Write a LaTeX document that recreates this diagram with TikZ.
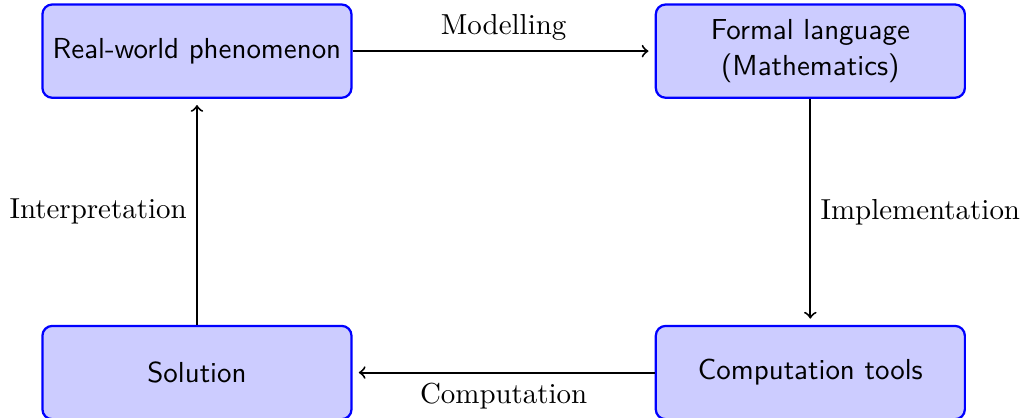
\documentclass[tikz,border=0pt]{standalone}
\usepackage{fontspec}
\begin{document}
\begin{tikzpicture}[x=1pt,y=1pt,
  lbl/.style={font=\fontsize{10.3pt}{12.6pt}\selectfont},
  box/.style={draw=blue, fill=blue!20, line width=0.8pt, rounded corners=3.5pt,
    minimum width=110pt, minimum height=33.2pt, align=center,
    font=\fontsize{10.3pt}{12.6pt}\selectfont\sffamily, inner sep=3.33pt},
  conn/.style={->, line width=0.7pt, shorten >=2.2pt}
]
\useasboundingbox (0,0) rectangle (364.8,-148.75);
\node[box] (rw) at (70.1,-18.2) {Real-world phenomenon};
\node[box] (fl) at (288.4,-18.2) {Formal language\\(Mathematics)};
\node[box] (ct) at (288.4,-132.6) {Computation tools};
\node[box] (so) at (70.1,-132.6) {Solution};
\draw[conn] (rw) -- node[above, lbl] (lm) {Modelling} (fl);
\draw[conn] (fl) -- node[right, lbl] (li) {Implementation} (ct);
\draw[conn] (ct) -- node[below, lbl] (lc) {Computation} (so);
\draw[conn] (so) -- node[left, lbl] (lp) {Interpretation} (rw);
\end{tikzpicture}
\end{document}
